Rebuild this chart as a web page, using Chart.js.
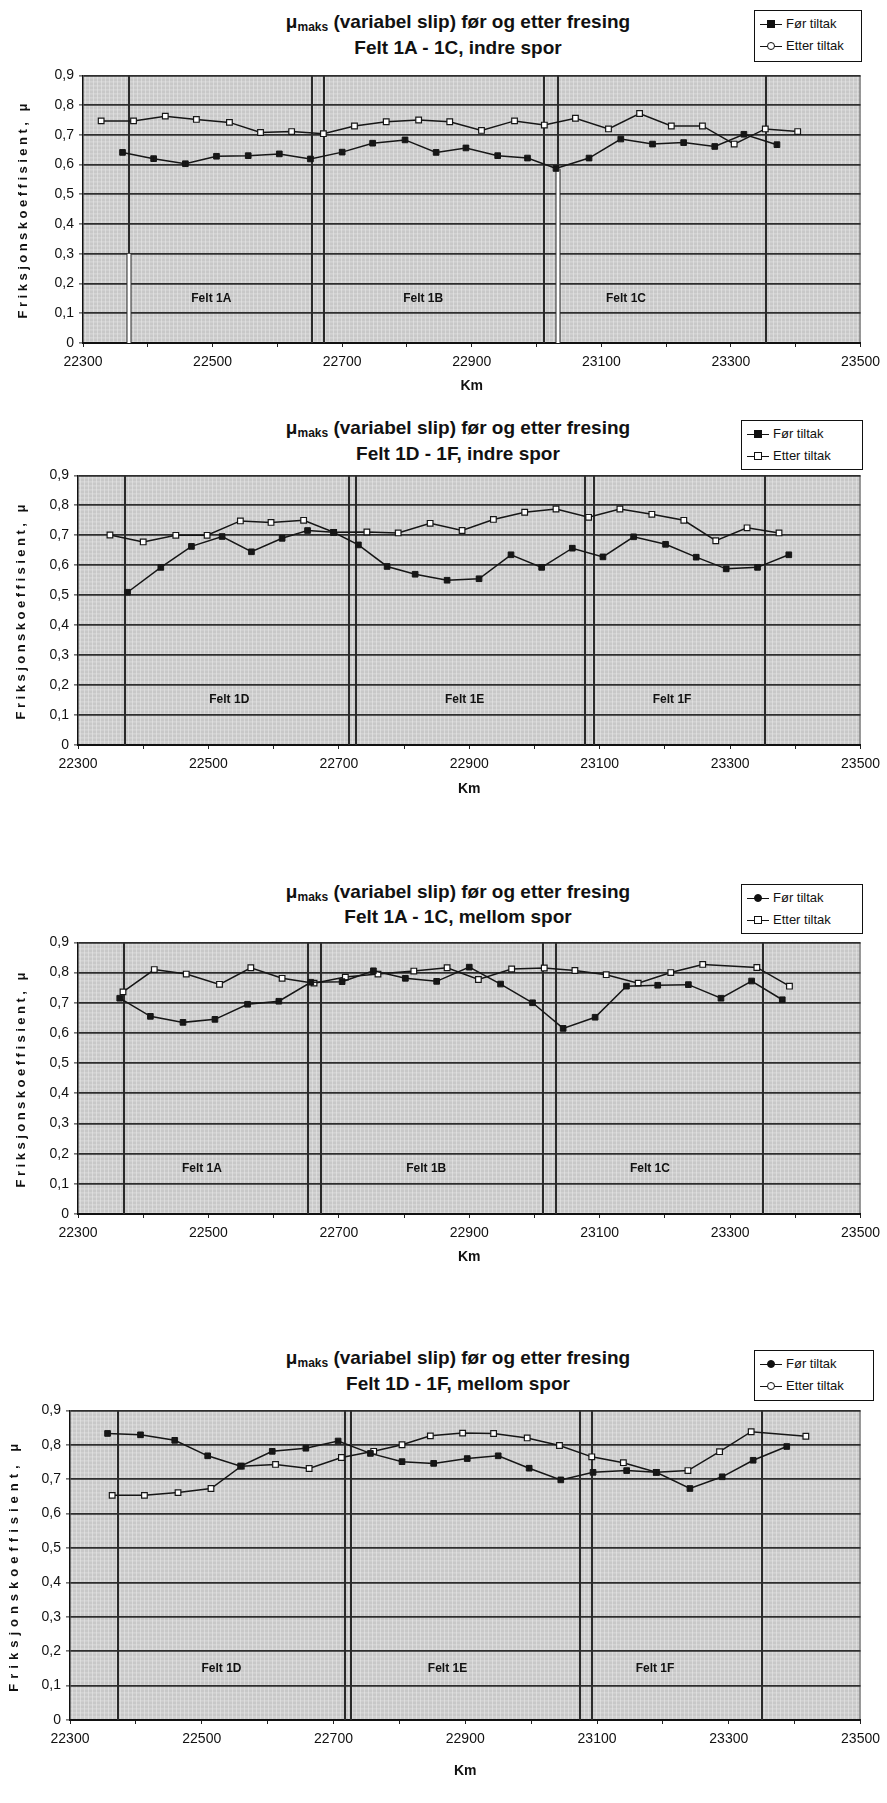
<!DOCTYPE html>
<html lang="no">
<head>
<meta charset="utf-8">
<title>Friksjon før og etter fresing</title>
<script src="https://cdn.jsdelivr.net/npm/chart.js@4.4.1/dist/chart.umd.min.js"></script>
<style>
  html, body { margin: 0; padding: 0; background: #fff; }
  body { position: relative; width: 887px; height: 1803px; overflow: hidden;
         font-family: "Liberation Sans", Arial, sans-serif; color: #111; }
  canvas { position: absolute; left: 0; }
  .tittel { position: absolute; left: 0; width: 916px; height: 20px; line-height: 20px;
            text-align: center; font-weight: bold; font-size: 19px; white-space: nowrap; }
  .tittel sub { font-size: 12px; vertical-align: -3px; line-height: 0; }
  .forklaring { position: absolute; background: #fff; border: 1px solid #111;
                box-sizing: border-box; font-size: 13px; padding: 2px 0 0 5px; }
  .rad { height: 22px; line-height: 22px; white-space: nowrap; }
  .strek { display: inline-block; position: relative; width: 22px; height: 0;
           border-top: 1.5px solid #111; vertical-align: middle; margin-right: 4px; }
  .strek i { position: absolute; left: 7px; top: -5px; width: 8px; height: 8px;
             box-sizing: border-box; border: 1px solid #111; background: #fff; }
  .strek i.fylt { background: #111; }
  .strek i.rund { border-radius: 50%; }
</style>
</head>
<body>

<div class="tittel" style="top:12px">μ<sub>maks</sub> (variabel slip) før og etter fresing</div>
<div class="tittel" style="top:38px">Felt 1A - 1C, indre spor</div>
<div class="forklaring" style="left:754px; top:10px; width:108px; height:52px">
  <div class="rad"><span class="strek"><i class="fylt"></i></span>Før tiltak</div>
  <div class="rad"><span class="strek"><i class="rund"></i></span>Etter tiltak</div>
</div>
<canvas id="diagram1"></canvas>

<div class="tittel" style="top:418px">μ<sub>maks</sub> (variabel slip) før og etter fresing</div>
<div class="tittel" style="top:444px">Felt 1D - 1F, indre spor</div>
<div class="forklaring" style="left:741px; top:420px; width:122px; height:50px">
  <div class="rad"><span class="strek"><i class="fylt"></i></span>Før tiltak</div>
  <div class="rad"><span class="strek"><i></i></span>Etter tiltak</div>
</div>
<canvas id="diagram2"></canvas>

<div class="tittel" style="top:882px">μ<sub>maks</sub> (variabel slip) før og etter fresing</div>
<div class="tittel" style="top:907px">Felt 1A - 1C, mellom spor</div>
<div class="forklaring" style="left:741px; top:884px; width:122px; height:50px">
  <div class="rad"><span class="strek"><i class="fylt rund"></i></span>Før tiltak</div>
  <div class="rad"><span class="strek"><i></i></span>Etter tiltak</div>
</div>
<canvas id="diagram3"></canvas>

<div class="tittel" style="top:1348px">μ<sub>maks</sub> (variabel slip) før og etter fresing</div>
<div class="tittel" style="top:1374px">Felt 1D - 1F, mellom spor</div>
<div class="forklaring" style="left:754px; top:1350px; width:120px; height:51px">
  <div class="rad"><span class="strek"><i class="fylt rund"></i></span>Før tiltak</div>
  <div class="rad"><span class="strek"><i class="rund"></i></span>Etter tiltak</div>
</div>
<canvas id="diagram4"></canvas>

<script>
// Felt 1A - 1C, indre spor
const km1For = [22361, 22409, 22458, 22506, 22555, 22603, 22651, 22700, 22747, 22797, 22845, 22891, 22940, 22986, 23030, 23081, 23130, 23179, 23227, 23275, 23320, 23371];
const mu1For = [0.641, 0.620, 0.603, 0.628, 0.630, 0.636, 0.619, 0.642, 0.672, 0.683, 0.641, 0.656, 0.630, 0.622, 0.587, 0.622, 0.686, 0.669, 0.674, 0.661, 0.702, 0.667];
const km1Etter = [22328, 22378, 22427, 22475, 22526, 22574, 22622, 22671, 22719, 22768, 22818, 22866, 22915, 22966, 23012, 23060, 23111, 23159, 23208, 23256, 23305, 23353, 23403];
const mu1Etter = [0.747, 0.747, 0.763, 0.752, 0.742, 0.708, 0.711, 0.704, 0.730, 0.744, 0.750, 0.744, 0.715, 0.747, 0.733, 0.756, 0.720, 0.772, 0.730, 0.730, 0.669, 0.720, 0.711];

// Felt 1D - 1F, indre spor
const km2For = [22376, 22427, 22474, 22521, 22566, 22613, 22652, 22692, 22730, 22774, 22817, 22866, 22915, 22964, 23011, 23058, 23105, 23152, 23201, 23248, 23294, 23342, 23390];
const mu2For = [0.510, 0.593, 0.663, 0.696, 0.645, 0.690, 0.716, 0.710, 0.668, 0.596, 0.570, 0.550, 0.555, 0.635, 0.593, 0.657, 0.628, 0.695, 0.670, 0.627, 0.588, 0.593, 0.635];
const km2Etter = [22349, 22400, 22450, 22498, 22549, 22596, 22646, 22692, 22743, 22791, 22840, 22889, 22937, 22985, 23033, 23083, 23131, 23180, 23229, 23278, 23326, 23375];
const mu2Etter = [0.701, 0.678, 0.700, 0.700, 0.748, 0.743, 0.750, 0.710, 0.711, 0.708, 0.740, 0.716, 0.753, 0.777, 0.788, 0.760, 0.788, 0.770, 0.750, 0.682, 0.725, 0.708];

// Felt 1A - 1C, mellom spor
const km3For = [22364, 22411, 22461, 22510, 22560, 22608, 22657, 22705, 22753, 22802, 22850, 22900, 22948, 22997, 23044, 23093, 23141, 23189, 23236, 23286, 23333, 23380];
const mu3For = [0.715, 0.655, 0.635, 0.645, 0.695, 0.705, 0.768, 0.770, 0.806, 0.781, 0.771, 0.818, 0.762, 0.700, 0.615, 0.652, 0.755, 0.758, 0.760, 0.715, 0.772, 0.710];
const km3Etter = [22369, 22417, 22466, 22517, 22565, 22613, 22662, 22710, 22760, 22815, 22866, 22914, 22965, 23015, 23062, 23110, 23159, 23209, 23258, 23341, 23391];
const mu3Etter = [0.736, 0.810, 0.795, 0.761, 0.816, 0.781, 0.765, 0.785, 0.795, 0.805, 0.816, 0.777, 0.812, 0.815, 0.807, 0.793, 0.765, 0.800, 0.827, 0.817, 0.755];

// Felt 1D - 1F, mellom spor
const km4For = [22357, 22407, 22459, 22509, 22559, 22607, 22658, 22707, 22756, 22804, 22852, 22903, 22950, 22997, 23045, 23094, 23145, 23190, 23241, 23290, 23337, 23388];
const mu4For = [0.833, 0.829, 0.813, 0.768, 0.738, 0.781, 0.790, 0.811, 0.775, 0.751, 0.746, 0.760, 0.768, 0.732, 0.698, 0.720, 0.725, 0.720, 0.673, 0.707, 0.755, 0.795];
const km4Etter = [22364, 22413, 22464, 22514, 22560, 22612, 22663, 22712, 22761, 22804, 22847, 22896, 22943, 22994, 23043, 23092, 23140, 23190, 23238, 23286, 23334, 23417];
const mu4Etter = [0.653, 0.653, 0.661, 0.673, 0.738, 0.743, 0.731, 0.763, 0.781, 0.800, 0.826, 0.834, 0.833, 0.820, 0.798, 0.765, 0.748, 0.720, 0.725, 0.780, 0.838, 0.825];

// Feltgrenser (km) og feltnavn
const grenser1 = [22371, 22653, 22672, 23011, 23033, 23354];
const grenser2 = [22372, 22716, 22727, 23078, 23091, 23354];
const grenser3 = [22371, 22652, 22672, 23013, 23033, 23351];
const grenser4 = [22373, 22717, 22726, 23074, 23092, 23350];
const felt1 = ['Felt 1A', 'Felt 1B', 'Felt 1C'];
const felt2 = ['Felt 1D', 'Felt 1E', 'Felt 1F'];
const feltKm1 = [22498, 22825, 23138];
const feltKm2 = [22532, 22893, 23211];
const feltKm3 = [22490, 22834, 23177];
const feltKm4 = [22530, 22873, 23188];

// Akser
const kmMin = 22300, kmMax = 23500, kmSteg = 100;
const muMin = 0, muMax = 0.9, muSteg = 0.1;
const yTittel = 'Friksjonskoeffisient, μ';

Chart.defaults.font.family = '"Liberation Sans", Arial, sans-serif';
Chart.defaults.color = '#111';

// grå bakgrunn med fint rutenett, som på papiret
const bakgrunn = {
  id: 'bakgrunn',
  beforeDraw(chart) {
    const { ctx, chartArea: a } = chart;
    ctx.save();
    ctx.fillStyle = '#c8c8c8';
    ctx.fillRect(a.left, a.top, a.width, a.height);
    ctx.strokeStyle = 'rgba(236,236,236,0.5)';
    ctx.lineWidth = 1;
    ctx.beginPath();
    for (let x = a.left + 2.5; x < a.right; x += 4) { ctx.moveTo(x, a.top); ctx.lineTo(x, a.bottom); }
    for (let y = a.top + 2.5; y < a.bottom; y += 4) { ctx.moveTo(a.left, y); ctx.lineTo(a.right, y); }
    ctx.stroke();
    ctx.strokeStyle = '#555';
    ctx.beginPath();
    ctx.moveTo(a.right - 0.5, a.top); ctx.lineTo(a.right - 0.5, a.bottom);
    ctx.stroke();
    ctx.restore();
  }
};

// loddrette feltgrenser + feltnavn
const felter = {
  id: 'felter',
  beforeDatasetsDraw(chart, args, opts) {
    const { ctx, chartArea: a, scales: { x, y } } = chart;
    ctx.save();
    ctx.strokeStyle = '#2a2a2a';
    ctx.lineWidth = 2;
    opts.grenser.forEach(km => {
      const px = Math.round(x.getPixelForValue(km));
      ctx.beginPath(); ctx.moveTo(px, a.top); ctx.lineTo(px, a.bottom); ctx.stroke();
    });
    // hvit kjerne nederst på enkelte streker
    (opts.hvite || []).forEach(([km, mu]) => {
      const px = Math.round(x.getPixelForValue(km));
      const y0 = y.getPixelForValue(0), y1 = y.getPixelForValue(mu);
      ctx.fillStyle = '#2a2a2a';
      ctx.fillRect(px - 2.5, y1, 5, y0 - y1);
      ctx.fillStyle = '#fff';
      ctx.fillRect(px - 1.5, y1, 3, y0 - y1);
    });
    ctx.font = 'bold 12px "Liberation Sans", Arial, sans-serif';
    ctx.fillStyle = '#111';
    ctx.textAlign = 'center';
    ctx.textBaseline = 'middle';
    opts.navn.forEach((n, i) => ctx.fillText(n, x.getPixelForValue(opts.navnKm[i]), y.getPixelForValue(opts.navnMu)));
    ctx.restore();
  }
};

// y-aksetittel med sperret skrift
const aksetittel = {
  id: 'aksetittel',
  afterDraw(chart, args, opts) {
    const { ctx, chartArea: a } = chart;
    ctx.save();
    ctx.translate(opts.x, (a.top + a.bottom) / 2);
    ctx.rotate(-Math.PI / 2);
    ctx.font = 'bold 13px "Liberation Sans", Arial, sans-serif';
    ctx.letterSpacing = opts.sperring + 'px';
    ctx.fillStyle = '#111';
    ctx.textAlign = 'center';
    ctx.textBaseline = 'middle';
    ctx.fillText(opts.tekst, 0, 0);
    ctx.restore();
  }
};

function punkter(km, mu) {
  return km.map((k, i) => ({ x: k, y: mu[i] }));
}

function muTekst(v) {
  return Math.abs(v) < 1e-9 ? '0' : v.toFixed(1).replace('.', ',');
}

function lagDiagram(id, o, kmFor, muFor, kmEtter, muEtter, grenser, navn, navnKm, hvite) {
  const padTopp = 12;
  const padVenstre = 2;
  const canvas = document.getElementById(id);
  canvas.width = 887;
  canvas.height = padTopp + (o.bunn - o.topp) + o.xAksH;
  canvas.style.top = (o.topp - padTopp) + 'px';

  new Chart(canvas, {
    type: 'line',
    data: {
      datasets: [
        {
          label: 'Før tiltak',
          data: punkter(kmFor, muFor),
          borderColor: '#161616',
          borderWidth: 1.5,
          pointStyle: 'rect',
          pointRadius: 4,
          pointBackgroundColor: '#161616',
          pointBorderColor: '#161616',
          pointBorderWidth: 1,
          tension: 0
        },
        {
          label: 'Etter tiltak',
          data: punkter(kmEtter, muEtter),
          borderColor: '#161616',
          borderWidth: 1.5,
          pointStyle: 'rect',
          pointRadius: 4,
          pointBackgroundColor: '#fff',
          pointBorderColor: '#161616',
          pointBorderWidth: 1.2,
          tension: 0
        }
      ]
    },
    options: {
      responsive: false,
      animation: false,
      layout: { padding: { top: padTopp, left: padVenstre, right: 887 - o.hoyre, bottom: 0 } },
      plugins: {
        legend: { display: false },
        tooltip: { enabled: false },
        felter: { grenser, navn, navnKm, navnMu: 0.15, hvite },
        aksetittel: { tekst: yTittel, x: o.ytittelX, sperring: o.sperring }
      },
      scales: {
        x: {
          type: 'linear',
          min: kmMin,
          max: kmMax,
          afterFit: s => { s.height = o.xAksH; },
          ticks: {
            stepSize: kmSteg,
            autoSkip: false,
            maxRotation: 0,
            padding: 7,
            font: { size: 14 },
            callback: v => (v - kmMin) % 200 === 0 ? String(v) : ''
          },
          grid: { drawOnChartArea: false, drawTicks: true, tickLength: 4, color: '#222' },
          border: { color: '#111', width: 2 },
          title: { display: true, text: 'Km', font: { size: 14, weight: 'bold' }, padding: 0 }
        },
        y: {
          min: muMin,
          max: muMax,
          afterFit: s => { s.width = o.venstre - padVenstre; },
          ticks: { stepSize: muSteg, padding: 5, font: { size: 14 }, callback: muTekst },
          grid: { color: '#2e2e2e', lineWidth: 1.8, tickLength: 4, tickColor: '#222', tickWidth: 1 },
          border: { color: '#111', width: 1.5 }
        }
      }
    },
    plugins: [bakgrunn, felter, aksetittel]
  });
}

lagDiagram('diagram1', { topp: 74, bunn: 343, venstre: 83, hoyre: 861, ytittelX: 23, sperring: 3.5, xAksH: 52 },
  km1For, mu1For, km1Etter, mu1Etter, grenser1, felt1, feltKm1, [[22371, 0.3], [23033, 0.585]]);
lagDiagram('diagram2', { topp: 474, bunn: 745, venstre: 78, hoyre: 862, ytittelX: 21, sperring: 3.5, xAksH: 53 },
  km2For, mu2For, km2Etter, mu2Etter, grenser2, felt2, feltKm2, []);
lagDiagram('diagram3', { topp: 941, bunn: 1214, venstre: 78, hoyre: 862, ytittelX: 21, sperring: 3.5, xAksH: 52 },
  km3For, mu3For, km3Etter, mu3Etter, grenser3, felt1, feltKm3, []);
lagDiagram('diagram4', { topp: 1409, bunn: 1720, venstre: 70, hoyre: 861, ytittelX: 14, sperring: 5, xAksH: 60 },
  km4For, mu4For, km4Etter, mu4Etter, grenser4, felt2, feltKm4, []);
</script>
</body>
</html>
